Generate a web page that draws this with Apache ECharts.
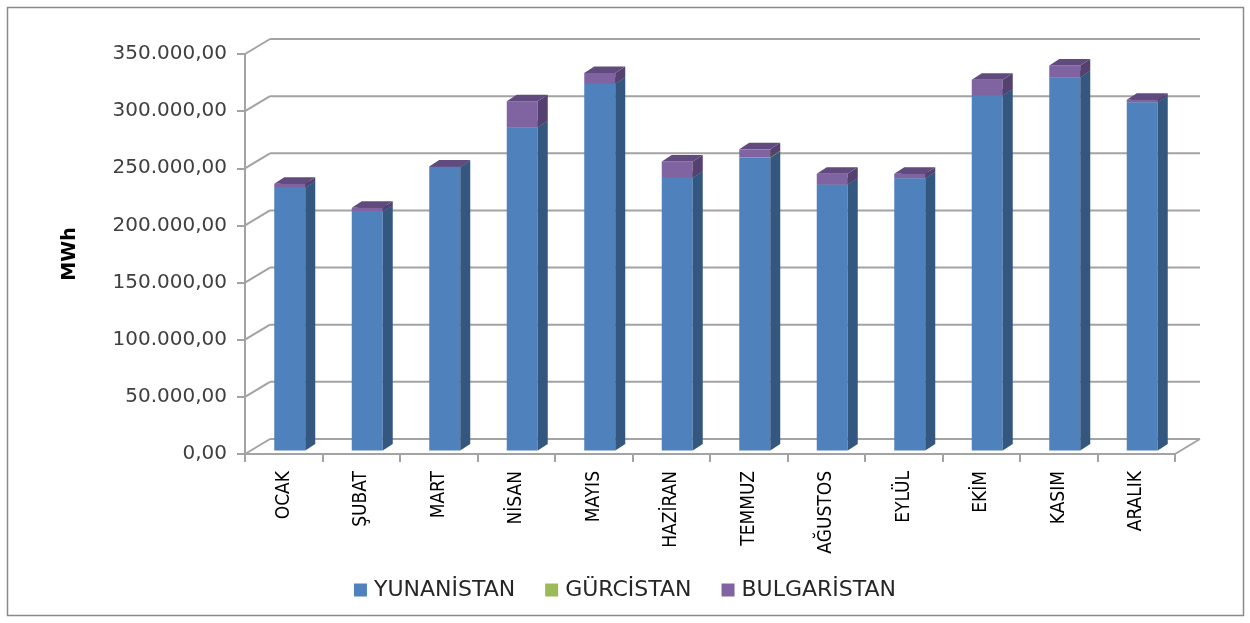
<!DOCTYPE html>
<html>
<head>
<meta charset="utf-8">
<script src="https://cdn.jsdelivr.net/npm/echarts@6/dist/echarts.min.js"></script>
<style>
  html, body { margin: 0; padding: 0; background: #fff; }
  #chart { width: 1250px; height: 623px; }
</style>
</head>
<body>
<div id="chart"></div>
<script>
const months = ['OCAK', 'ŞUBAT', 'MART', 'NİSAN', 'MAYIS', 'HAZİRAN', 'TEMMUZ', 'AĞUSTOS', 'EYLÜL', 'EKİM', 'KASIM', 'ARALIK'];
const yunanistan = [229900, 209100, 248000, 282900, 320800, 238600, 256200, 232700, 238300, 310600, 326700, 304800];
const gurcistan = [0, 0, 0, 0, 0, 0, 600, 0, 0, 0, 0, 0];
const bulgaristan = [3500, 3200, 500, 22700, 9600, 14300, 6700, 9400, 3800, 13800, 10200, 2100];
const yTicks = [0, 50000, 100000, 150000, 200000, 250000, 300000, 350000];

// depth of the box and of the bars, in pixels
const WALL = { dx: 25, dy: -15 };
const BAR_FRONT = { dx: 6, dy: -3.5 };
const BAR_DEPTH = { dx: 10, dy: -6.5 };
const GRID_COLOR = '#a3a3a3';

const seriesDefs = [
  { name: 'YUNANİSTAN', values: yunanistan, front: '#4f81bd', side: '#34577f', top: '#3f6797' },
  { name: 'GÜRCİSTAN', values: gurcistan, front: '#9bbb59', side: '#6f8a3c', top: '#7d9a45' },
  { name: 'BULGARİSTAN', values: bulgaristan, front: '#8064a2', side: '#55416f', top: '#614a7e' }
];

function fmt(v) {
  return String(v).replace(/\B(?=(\d{3})+(?!\d))/g, '.') + ',00';
}

// walls: left side diagonals + back wall horizontal lines, floor right edge
function renderWall(params, api) {
  const cs = params.coordSys;
  const v = api.value(0);
  const y = api.coord([0, v])[1];
  const x0 = cs.x, x1 = cs.x + cs.width;
  const style = { stroke: GRID_COLOR, lineWidth: 2 };
  const children = [
    { type: 'line', shape: { x1: x0, y1: y, x2: x0 + WALL.dx, y2: y + WALL.dy }, style: style },
    { type: 'line', shape: { x1: x0 + WALL.dx, y1: y + WALL.dy, x2: x1 + WALL.dx, y2: y + WALL.dy }, style: style }
  ];
  if (v === 0) {
    children.push({ type: 'line', shape: { x1: x1, y1: y, x2: x1 + WALL.dx, y2: y + WALL.dy }, style: style });
  }
  return { type: 'group', children: children };
}

function makeBarRenderer(def) {
  return function (params, api) {
    const i = api.value(0);
    const base = api.value(1);
    const top = api.value(2);
    if (top - base <= 0) return null;
    const w = api.size([1, 0])[0] * 0.4;
    const c = api.coord([i, base]);
    const yb = c[1] + BAR_FRONT.dy;
    const yt = api.coord([i, top])[1] + BAR_FRONT.dy;
    const xl = c[0] - w / 2 + BAR_FRONT.dx;
    const xr = xl + w;
    const dx = BAR_DEPTH.dx, dy = BAR_DEPTH.dy;
    return {
      type: 'group',
      children: [
        { type: 'rect', shape: { x: xl, y: yt, width: w, height: yb - yt }, style: { fill: def.front } },
        { type: 'polygon', shape: { points: [[xr, yb], [xr + dx, yb + dy], [xr + dx, yt + dy], [xr, yt]] }, style: { fill: def.side } },
        { type: 'polygon', shape: { points: [[xl, yt], [xr, yt], [xr + dx, yt + dy], [xl + dx, yt + dy]] }, style: { fill: def.top } }
      ]
    };
  };
}

// stacked bar data [index, base, top]
const stackBase = months.map(() => 0);
const barSeries = seriesDefs.map(def => {
  const data = def.values.map((v, i) => {
    const b = stackBase[i];
    stackBase[i] += v;
    return [i, b, b + v];
  });
  return {
    type: 'custom',
    name: def.name,
    renderItem: makeBarRenderer(def),
    itemStyle: { color: def.front },
    encode: { x: 0, y: [1, 2] },
    data: data,
    z: 3
  };
});

const chart = echarts.init(document.getElementById('chart'), null, { renderer: 'canvas' });

chart.setOption({
  backgroundColor: '#ffffff',
  animation: false,
  graphic: [{
    type: 'rect',
    shape: { x: 7.5, y: 7.5, width: 1236, height: 608 },
    style: { fill: 'none', stroke: '#8a8a8a', lineWidth: 1.5 },
    z: 0
  }],
  grid: { left: 245, top: 54, width: 930, height: 400 },
  legend: {
    bottom: 17,
    left: 'center',
    itemWidth: 13,
    itemHeight: 13,
    itemGap: 30,
    icon: 'rect',
    textStyle: { fontFamily: 'DejaVu Sans', fontSize: 22, color: '#262626', padding: [0, 0, 0, 2] },
    data: seriesDefs.map(d => d.name)
  },
  xAxis: {
    type: 'category',
    data: months,
    axisLine: { lineStyle: { color: GRID_COLOR, width: 2 } },
    axisTick: { show: true, length: 8, lineStyle: { color: GRID_COLOR, width: 2 } },
    axisLabel: {
      rotate: 90,
      margin: 17,
      fontFamily: '"DejaVu Sans Condensed", "Liberation Sans Narrow", "DejaVu Sans"',
      fontSize: 19,
      color: '#000'
    }
  },
  yAxis: {
    type: 'value',
    min: 0,
    max: 350000,
    interval: 50000,
    name: 'MWh',
    nameLocation: 'middle',
    nameGap: 165,
    nameRotate: 90,
    nameTextStyle: { fontFamily: 'DejaVu Sans', fontWeight: 'bold', fontSize: 19, color: '#000' },
    axisLine: { show: true, lineStyle: { color: GRID_COLOR, width: 2 } },
    axisTick: { show: true, length: 8, lineStyle: { color: GRID_COLOR, width: 2 } },
    splitLine: { show: false },
    axisLabel: {
      margin: 18,
      formatter: fmt,
      fontFamily: 'DejaVu Sans',
      fontSize: 20,
      color: '#404040'
    }
  },
  series: [
    {
      type: 'custom',
      name: 'walls',
      renderItem: renderWall,
      encode: { y: 0 },
      data: yTicks.map(v => [v]),
      silent: true,
      z: 1
    }
  ].concat(barSeries)
});
</script>
</body>
</html>
